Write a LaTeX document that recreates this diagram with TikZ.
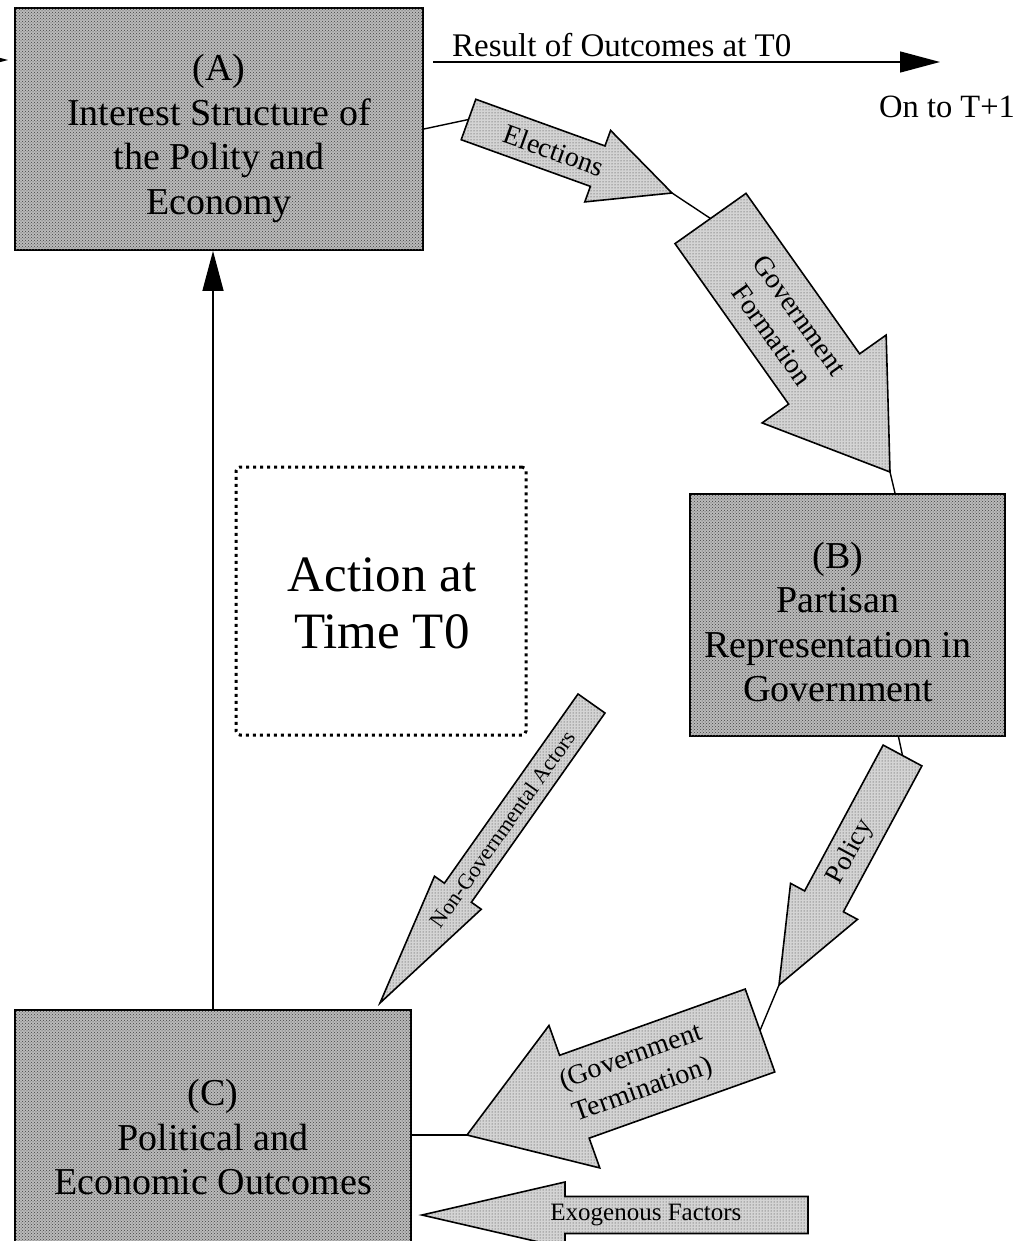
\documentclass[tikz,border=0pt]{standalone}
\usepackage{fontspec}
\setmainfont{Liberation Serif}
\usetikzlibrary{calc,arrows.meta,patterns}
\tikzset{
  boxst/.style={draw, line width=1.8pt, fill=black!27, postaction={pattern=crosshatch dots, pattern color=black!75}, inner sep=0pt},
  barrow/.style={draw, line width=1.6pt, fill=black!17, postaction={pattern=dots, pattern color=black!80}, line join=miter},
  conn/.style={line width=1.4pt},
  bigtip/.style={-{Triangle[length=40pt,width=21pt]}},
  boxtext/.style={align=center, inner sep=0pt, font=\fontsize{38}{44.5}\selectfont},
  arrtext/.style={align=center, inner sep=0pt},
  dotbox/.style={draw, line width=3pt, dash pattern=on 3pt off 4pt, rounded corners=4pt, inner sep=0pt}
}
% #1 tail, #2 tip, #3 shaft half width, #4 head half width, #5 head length,
% #6 extra label rotation, #7 label options, #8 label text, #9 name
\newcommand{\blockarrow}[9]{%
  \coordinate (#9-base) at ($(#2)!#5!(#1)$);
  \draw[barrow] ($(#1)!#3!90:(#2)$) -- ($(#9-base)!#3!-90:(#1)$) -- ($(#9-base)!#4!-90:(#1)$) -- (#2)
     -- ($(#9-base)!#4!90:(#1)$) -- ($(#9-base)!#3!90:(#1)$) -- ($(#1)!#3!-90:(#2)$) -- cycle;
  \path let \p1=(#1), \p2=(#2), \n1={atan2(\y2-\y1,\x2-\x1)+#6} in
     node[arrtext, rotate=\n1, #7] (#9) at ($(#1)!0.42!(#2)$) {#8};
}
\begin{document}
\begin{tikzpicture}[x=1pt,y=-1pt]
\useasboundingbox (0,0) rectangle (1021,1241);

% main boxes
\node[boxst, minimum width=408pt, minimum height=242pt] (A) at (219,129) {};
\node[boxst, minimum width=315pt, minimum height=242pt] (B) at (847.5,615) {};
\node[boxst, minimum width=396pt, minimum height=260pt] (C) at (213,1140) {};
\node[dotbox, minimum width=290pt, minimum height=268pt] (T) at (381,601) {};

\node[boxtext] (Atext) at (219,138.5) {(A)\\Interest Structure of\\the Polity and\\Economy};
\node[boxtext] (Btext) at (838,622) {(B)\\Partisan\\Representation in\\Government};
\node[boxtext] (Ctext) at (213,1137) {(C)\\Political and\\Economic Outcomes};
\node[align=center, inner sep=0pt, font=\fontsize{51}{57}\selectfont] (Ttext) at (382,603) {Action at\\Time T0};

% block arrow end points
\coordinate (el-tail) at (468.5,119.5);
\coordinate (el-tip) at (672,193);
\coordinate (gf-tail) at (710.5,218.5);
\coordinate (gf-tip) at (890,472);
\coordinate (po-tail) at (902.5,755.5);
\coordinate (po-tip) at (779,985);
\coordinate (gt-tail) at (760,1030.5);
\coordinate (gt-tip) at (467,1135);
\coordinate (ng-tail) at (591.5,703.5);
\coordinate (ng-tip) at (380,1003);
\coordinate (ex-tail) at (808,1215);
\coordinate (ex-tip) at (422,1215);

% thin connectors
\draw[conn] (A.east) -- (el-tail);
\draw[conn] (el-tip) -- (gf-tail);
\draw[conn] (gf-tip) -- ([xshift=5pt]gf-tip |- B.north);
\draw[conn] ([xshift=-4pt]po-tail |- B.south) -- (po-tail);
\draw[conn] (po-tip) -- (gt-tail);
\draw[conn] (gt-tip) -- (gt-tip -| C.east);
\draw[conn, bigtip] (C.north) -- (C.north |- A.south);

\coordinate (res-s) at (433,62);
\coordinate (res-e) at (940,62);
\draw[conn, bigtip] (res-s) -- (res-e);
\coordinate (in-s) at (-40,60);
\coordinate (in-e) at (8,60);
\draw[conn, bigtip] (in-s) -- (in-e);
\node[anchor=base west, inner sep=0pt, font=\fontsize{33}{38}\selectfont] (restext) at (452,57) {Result of Outcomes at T0};
\node[anchor=base west, inner sep=0pt, font=\fontsize{32.5}{38}\selectfont] (onto) at (879,118) {On to T+1};

% block arrows
\blockarrow{el-tail}{el-tip}{21.5pt}{38pt}{79pt}{0}{font=\fontsize{28}{32}\selectfont}{Elections}{el}
\blockarrow{gf-tail}{gf-tip}{43.5pt}{76pt}{114pt}{0}{font=\fontsize{28}{34}\selectfont}{Government\\Formation}{gf}
\blockarrow{po-tail}{po-tip}{22pt}{38pt}{95pt}{180}{font=\fontsize{27}{32}\selectfont}{Policy}{po}
\blockarrow{gt-tail}{gt-tip}{44pt}{75.6pt}{114pt}{180}{font=\fontsize{28}{35}\selectfont}{(Government\\Termination)}{gt}
\blockarrow{ng-tail}{ng-tip}{16.5pt}{28.6pt}{135pt}{180}{font=\fontsize{22}{26}\selectfont}{Non-Governmental Actors}{ng}
\blockarrow{ex-tail}{ex-tip}{18.5pt}{33pt}{143pt}{180}{font=\fontsize{25}{30}\selectfont}{Exogenous Factors}{ex}
\end{tikzpicture}
\end{document}
